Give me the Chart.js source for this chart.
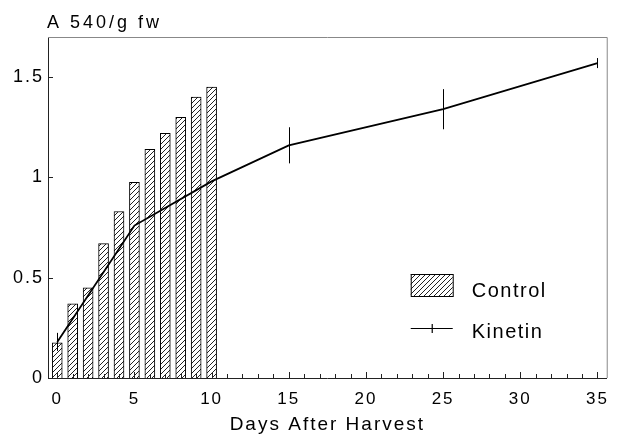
<!DOCTYPE html>
<html>
<head>
<meta charset="utf-8">
<script src="https://cdn.jsdelivr.net/npm/chart.js@4.4.0/dist/chart.umd.min.js"></script>
<style>
  html, body { margin: 0; padding: 0; background: #fff; }
  canvas { display: block; }
</style>
</head>
<body>
<canvas id="myChart" width="618" height="434"></canvas>
<script>
// Control: one bar per day
const controlDays = [0, 1, 2, 3, 4, 5, 6, 7, 8, 9, 10];
const controlValues = [0.175, 0.37, 0.45, 0.67, 0.83, 0.975, 1.14, 1.22, 1.30, 1.40, 1.45];

// Kinetin: line with error bars
const kinetinDays = [0, 5, 10, 15, 25, 35];
const kinetinValues = [0.18, 0.76, 0.98, 1.16, 1.34, 1.57];
const kinetinErr = [0.045, 0, 0, 0.09, 0.1, 0.025];

const yTitle = 'A 540/g fw';
const xTitle = 'Days After Harvest';
const xLabelEvery = 5;

const FONT = '"Liberation Sans", Arial, Helvetica, sans-serif';
const INK = '#000';

const canvas = document.getElementById('myChart');
const ctx = canvas.getContext('2d');

// diagonal hatch for the control bars
function makeHatch() {
  const c = document.createElement('canvas');
  c.width = 5;
  c.height = 5;
  const g = c.getContext('2d');
  g.fillStyle = '#fff';
  g.fillRect(0, 0, 5, 5);
  g.strokeStyle = '#222';
  g.lineWidth = 1;
  g.beginPath();
  g.moveTo(0, 5); g.lineTo(5, 0);
  g.moveTo(-1, 1); g.lineTo(1, -1);
  g.moveTo(4, 6); g.lineTo(6, 4);
  g.stroke();
  return ctx.createPattern(c, 'repeat');
}
const hatch = makeHatch();

// wide letter spacing like the old plotter font
const spacing = {
  id: 'spacing',
  beforeDraw(chart) {
    chart.ctx.letterSpacing = '2px';
  }
};

// error bars on the kinetin line
const errorBars = {
  id: 'errorBars',
  afterDatasetsDraw(chart) {
    const c = chart.ctx;
    const x = chart.scales.x, y = chart.scales.y;
    c.save();
    c.strokeStyle = INK;
    c.lineWidth = 1;
    kinetinDays.forEach((d, i) => {
      const e = kinetinErr[i];
      if (!e) return;
      const px = Math.round(x.getPixelForValue(d)) + 0.5;
      c.beginPath();
      c.moveTo(px, y.getPixelForValue(kinetinValues[i] - e));
      c.lineTo(px, y.getPixelForValue(kinetinValues[i] + e));
      c.stroke();
    });
    c.restore();
  }
};

// frame, inward ticks, title and legend
const decorations = {
  id: 'decorations',
  afterDraw(chart) {
    const c = chart.ctx;
    const a = chart.chartArea;
    const x = chart.scales.x, y = chart.scales.y;
    c.save();

    // top and right of the frame
    c.strokeStyle = '#888';
    c.lineWidth = 1;
    c.beginPath();
    c.moveTo(a.left, a.top + 0.5);
    c.lineTo(a.right + 0.5, a.top + 0.5);
    c.lineTo(a.right + 0.5, a.bottom);
    c.stroke();

    // ticks pointing into the plot
    c.strokeStyle = '#222';
    c.beginPath();
    x.ticks.forEach(t => {
      const px = Math.round(x.getPixelForValue(t.value)) + 0.5;
      const len = t.value % xLabelEvery === 0 ? 6 : 4;
      c.moveTo(px, a.bottom);
      c.lineTo(px, a.bottom - len);
    });
    y.ticks.forEach(t => {
      const py = Math.round(y.getPixelForValue(t.value)) + 0.5;
      c.moveTo(a.left, py);
      c.lineTo(a.left + 5, py);
    });
    c.stroke();

    // axis title above the plot
    c.fillStyle = INK;
    c.letterSpacing = '3px';
    c.font = '18px ' + FONT;
    c.textAlign = 'left';
    c.textBaseline = 'alphabetic';
    c.fillText(yTitle, a.left - 1, 28);

    // legend
    const lx = a.right - 196;
    const ly = a.bottom - 104;
    c.fillStyle = hatch;
    c.fillRect(lx, ly, 42, 22);
    c.strokeStyle = INK;
    c.strokeRect(lx + 0.5, ly + 0.5, 42, 22);
    c.beginPath();
    c.moveTo(lx, ly + 54.5);
    c.lineTo(lx + 42, ly + 54.5);
    c.moveTo(lx + 21.5, ly + 50);
    c.lineTo(lx + 21.5, ly + 59);
    c.lineWidth = 1.2;
    c.stroke();
    c.fillStyle = INK;
    c.letterSpacing = '1.5px';
    c.font = '20px ' + FONT;
    c.fillText('Control', lx + 61, ly + 23);
    c.fillText('Kinetin', lx + 61, ly + 64);

    c.restore();
  }
};

const chart = new Chart(ctx, {
  type: 'bar',
  data: {
    datasets: [
      {
        type: 'line',
        label: 'Kinetin',
        data: kinetinDays.map((d, i) => ({ x: d, y: kinetinValues[i] })),
        borderColor: INK,
        borderWidth: 1.8,
        pointRadius: 0,
        tension: 0,
        fill: false,
        order: 0
      },
      {
        type: 'bar',
        label: 'Control',
        data: controlDays.map((d, i) => ({ x: d, y: controlValues[i] })),
        backgroundColor: hatch,
        borderColor: INK,
        borderWidth: 1,
        barThickness: 10,
        order: 1
      }
    ]
  },
  options: {
    responsive: false,
    animation: false,
    devicePixelRatio: 1,
    layout: { padding: { top: 37, right: 5, left: 0, bottom: 0 } },
    plugins: {
      legend: { display: false },
      tooltip: { enabled: false }
    },
    scales: {
      x: {
        type: 'linear',
        min: -0.6,
        max: 35.6,
        offset: false,
        grid: { display: false, drawTicks: false },
        border: { display: true, color: '#222', width: 1 },
        ticks: {
          stepSize: 1,
          autoSkip: false,
          includeBounds: false,
          maxRotation: 0,
          padding: 11,
          color: INK,
          font: { family: FONT, size: 17 },
          callback: v => (v % xLabelEvery === 0 ? String(v) : '')
        },
        title: {
          display: true,
          text: xTitle,
          color: INK,
          font: { family: FONT, size: 19, lineHeight: 1 },
          padding: { top: 0, bottom: 0 }
        },
        afterFit: s => { s.height = 56; }
      },
      y: {
        min: 0,
        max: 1.7,
        grid: { display: false, drawTicks: false },
        border: { display: true, color: '#222', width: 1 },
        ticks: {
          stepSize: 0.5,
          includeBounds: false,
          padding: 4,
          color: INK,
          font: { family: FONT, size: 18 },
          callback: v => String(v)
        },
        afterFit: s => { s.width = 48; }
      }
    }
  },
  plugins: [spacing, errorBars, decorations]
});
</script>
</body>
</html>
